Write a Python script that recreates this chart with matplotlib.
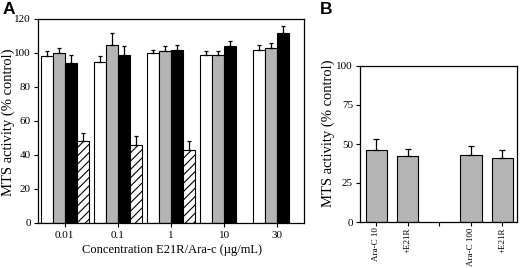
import numpy as np
import matplotlib
matplotlib.use("Agg")
import matplotlib.pyplot as plt

plt.rcParams['font.family'] = ['Liberation Serif', 'DejaVu Serif']
plt.rcParams['hatch.linewidth'] = 0.8

# Panel A data
concentrations = ["0.01", "0.1", "1", "10", "30"]
white_vals = [98, 95, 100, 99, 102]
white_err = [3, 3, 2, 2, 3]
gray_vals = [100, 105, 101, 99, 103]
gray_err = [3, 7, 3, 2, 3]
black_vals = [94, 99, 102, 104, 112]
black_err = [5, 5, 2.5, 3, 4]
hatch_vals = [48, 46, 43]
hatch_err = [5, 5, 5]

# Panel B data
b_labels = ["Ara-C 10", "+E21R", "", "Ara-C 100", "+E21R"]
b_vals = [46, 42, None, 43, 41]
b_err = [7, 4.5, None, 5.5, 5]

GRAY = '#b4b4b4'

fig = plt.figure(figsize=(5.2, 2.68), dpi=100)

axA = fig.add_axes([38/520, 45/268, 266/520, 204/268])
x = np.arange(len(concentrations))
w = 0.225
series = [(white_vals, white_err, 'white', None),
          (gray_vals, gray_err, GRAY, None),
          (black_vals, black_err, 'black', None),
          (hatch_vals, hatch_err, 'white', '////')]
offsets = [-1.5, -0.5, 0.5, 1.5]
for (vals, errs, col, h), off in zip(series, offsets):
    xs = x[:len(vals)] + off * w
    axA.bar(xs, vals, width=w, color=col, edgecolor='black', linewidth=0.8, hatch=h, zorder=2)
    axA.errorbar(xs, vals, yerr=[np.zeros(len(vals)), errs], fmt='none', ecolor='black',
                 elinewidth=0.9, capsize=1.6, capthick=0.9, zorder=3)
axA.set_xlim(-0.5, 4.5)
axA.set_ylim(0, 120)
axA.set_yticks(np.arange(0, 121, 20))
axA.set_xticks(x)
axA.set_xticklabels(concentrations)
axA.tick_params(direction='out', length=3, width=0.8, labelsize=8, pad=2)
axA.tick_params(axis='x', pad=2.5)
for s in axA.spines.values():
    s.set_linewidth(0.9)
fig.text(172/520, 1 - 250/268, "Concentration E21R/Ara-c (\u00b5g/mL)", ha='center', va='center', fontsize=9)
fig.text(8/520, 1 - 122/268, "MTS activity (% control)", rotation=90, ha='center', va='center', fontsize=10.5)

axB = fig.add_axes([360/520, 46/268, 157/520, 156/268])
xb = np.arange(len(b_labels))
bx = [xi for xi, v in zip(xb, b_vals) if v is not None]
bv = [v for v in b_vals if v is not None]
be = [e for e in b_err if e is not None]
axB.bar(bx, bv, width=0.67, color=GRAY, edgecolor='black', linewidth=0.8, zorder=2)
axB.errorbar(bx, bv, yerr=[np.zeros(len(bv)), be], fmt='none', ecolor='black',
             elinewidth=0.9, capsize=2, capthick=0.9, zorder=3)
axB.set_xlim(-0.52, 4.46)
axB.set_ylim(0, 100)
axB.set_yticks([0, 25, 50, 75, 100])
axB.set_xticks(xb)
axB.set_xticklabels(b_labels, rotation=90)
axB.tick_params(direction='out', length=3, width=0.8, labelsize=8, pad=2)
axB.tick_params(axis='x', labelsize=6.5, pad=1)
for s in axB.spines.values():
    s.set_linewidth(0.9)
fig.text(328/520, 1 - 133/268, "MTS activity (% control)", rotation=90, ha='center', va='center', fontsize=10.5)

fig.text(3/520, 1 - 2/268, "A", ha='left', va='top', fontsize=12.5, fontweight='bold', family='Liberation Sans')
fig.text(320/520, 1 - 2/268, "B", ha='left', va='top', fontsize=12.5, fontweight='bold', family='Liberation Sans')

fig.savefig("out.png", dpi=100)
